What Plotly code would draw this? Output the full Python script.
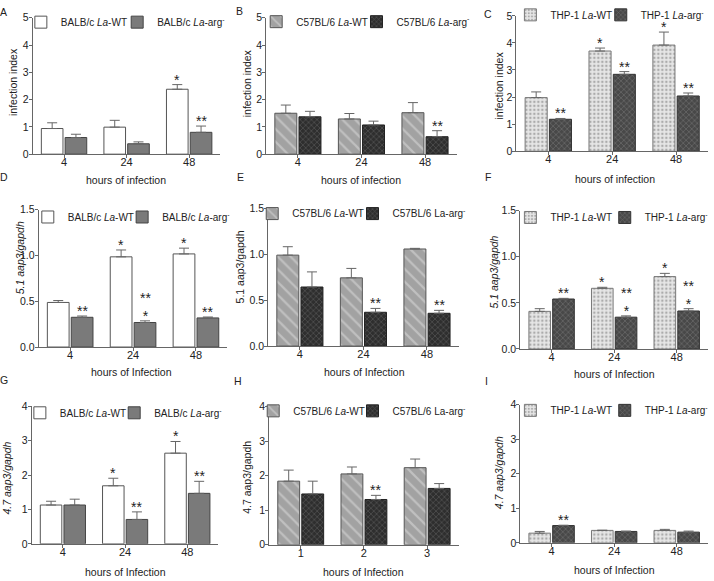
import plotly.graph_objects as go

W, H = 714, 581
FONT = "Liberation Sans, Arial, sans-serif"

# ---------------- data ----------------
hours = ["4", "24", "48"]
hours_H = ["1", "2", "3"]

A_wt = [0.94, 0.99, 2.38]; A_wt_sem = [0.21, 0.25, 0.17]
A_arg = [0.61, 0.38, 0.80]; A_arg_sem = [0.12, 0.07, 0.23]
B_wt = [1.50, 1.29, 1.52]; B_wt_sem = [0.30, 0.20, 0.37]
B_arg = [1.37, 1.07, 0.64]; B_arg_sem = [0.20, 0.14, 0.22]
C_wt = [1.98, 3.70, 3.92]; C_wt_sem = [0.21, 0.11, 0.48]
C_arg = [1.18, 2.84, 2.04]; C_arg_sem = [0.03, 0.10, 0.11]
D_wt = [0.487, 0.985, 1.017]; D_wt_sem = [0.021, 0.075, 0.063]
D_arg = [0.325, 0.268, 0.318]; D_arg_sem = [0.014, 0.018, 0.010]
E_wt = [0.993, 0.745, 1.060]; E_wt_sem = [0.092, 0.103, 0.007]
E_arg = [0.645, 0.369, 0.358]; E_arg_sem = [0.165, 0.042, 0.032]
F_wt = [0.408, 0.658, 0.785]; F_wt_sem = [0.029, 0.011, 0.035]
F_arg = [0.542, 0.345, 0.412]; F_arg_sem = [0.007, 0.014, 0.025]
G_wt = [1.13, 1.69, 2.64]; G_wt_sem = [0.11, 0.22, 0.34]
G_arg = [1.13, 0.71, 1.47]; G_arg_sem = [0.17, 0.22, 0.35]
H_wt = [1.84, 2.05, 2.23]; H_wt_sem = [0.32, 0.20, 0.25]
H_arg = [1.47, 1.31, 1.63]; H_arg_sem = [0.37, 0.12, 0.14]
I_wt = [0.28, 0.36, 0.36]; I_wt_sem = [0.05, 0.005, 0.03]
I_arg = [0.50, 0.33, 0.31]; I_arg_sem = [0.01, 0.01, 0.03]

A_wt_sig = ["", "", "*"]; A_arg_sig = ["", "", "**"]
B_wt_sig = ["", "", ""]; B_arg_sig = ["", "", "**"]
C_wt_sig = ["", "*", "*"]; C_arg_sig = ["**", "**", "**"]
D_wt_sig = ["", "*", "*"]; D_arg_sig = ["**", "**<br>*", "**"]
E_wt_sig = ["", "", ""]; E_arg_sig = ["", "**", "**"]
F_wt_sig = ["", "*", "*"]; F_arg_sig = ["**", "**<br>*", "**<br>*"]
G_wt_sig = ["", "*", "*"]; G_arg_sig = ["", "**", "**"]
H_wt_sig = ["", "", ""]; H_arg_sig = ["", "**", ""]
I_wt_sig = ["", "", ""]; I_arg_sig = ["**", "", ""]

names_BALB = ["BALB/c <i>La</i>-WT", "BALB/c <i>La</i>-arg<sup>-</sup>"]
names_C57 = ["C57BL/6 <i>La</i>-WT", "C57BL/6 <i>La</i>-arg<sup>-</sup>"]
names_C57b = ["C57BL/6 <i>La</i>-WT", "C57BL/6 La-arg<sup>-</sup>"]
names_THP = ["THP-1 <i>La</i>-WT", "THP-1 <i>La</i>-arg<sup>-</sup>"]

# ---------------- styles ----------------
STY = {
    "BALB": [
        dict(color="white", line=dict(color="#555555", width=1)),
        dict(color="#7a7a7a", line=dict(color="#444444", width=1)),
    ],
    "C57": [
        dict(color="#a6a6a6", line=dict(color="#555555", width=1),
             pattern=dict(shape="\\", bgcolor="#a2a2a2", fgcolor="#c0c0c0",
                          size=9, solidity=0.25, fillmode="replace")),
        dict(color="#333333", line=dict(color="#222222", width=1),
             pattern=dict(shape="x", bgcolor="#2e2e2e", fgcolor="#505050",
                          size=4, solidity=0.35, fillmode="replace")),
    ],
    "THP": [
        dict(color="#e2e2e2", line=dict(color="#777777", width=1),
             pattern=dict(shape=".", bgcolor="#e6e6e6", fgcolor="#ababab",
                          size=4, solidity=0.3, fillmode="replace")),
        dict(color="#505050", line=dict(color="#333333", width=1),
             pattern=dict(shape="x", bgcolor="#484848", fgcolor="#686868",
                          size=4, solidity=0.35, fillmode="replace")),
    ],
}

# panel geometry in pixels
panels = [
    dict(L="A", cats=hours, wt=A_wt, ws=A_wt_sem, arg=A_arg, as_=A_arg_sem, wsig=A_wt_sig, asig=A_arg_sig,
         sty="BALB", names=names_BALB, ymax=5, dt=1, fmt="d", ytitle="infection index",
         xt="hours of infection", box=(33, 222, 9, 149), leg=((60, 13.5), (157, 13.5)),
         ytp=(13, 75), xtp=(127, 176), lp=(4, 3)),
    dict(L="B", cats=hours, wt=B_wt, ws=B_wt_sem, arg=B_arg, as_=B_arg_sem, wsig=B_wt_sig, asig=B_arg_sig,
         sty="C57", names=names_C57, ymax=5, dt=1, fmt="d", ytitle="infection index",
         xt="hours of infection", box=(268, 460, 9, 149), leg=((297, 13), (398, 13)),
         ytp=(249, 76), xtp=(364, 176), lp=(241, 2)),
    dict(L="C", cats=hours, wt=C_wt, ws=C_wt_sem, arg=C_arg, as_=C_arg_sem, wsig=C_wt_sig, asig=C_arg_sig,
         sty="THP", names=names_THP, ymax=5, dt=1, fmt="d", ytitle="infection index",
         xt="hours of infection", box=(520, 713, 7, 146), leg=((553, 6), (644, 6)),
         ytp=(503, 78), xtp=(619, 174), lp=(491, 5)),
    dict(L="D", cats=hours, wt=D_wt, ws=D_wt_sem, arg=D_arg, as_=D_arg_sem, wsig=D_wt_sig, asig=D_arg_sig,
         sty="BALB", names=names_BALB, ymax=1.5, dt=0.5, fmt=".1f", ytitle="<i>5.1 aap3/gapdh</i>",
         xt="hours of Infection", box=(39, 229, 206, 347), leg=((67, 213.5), (162, 213.5)),
         ytp=(21, 255), xtp=(132, 373), lp=(4, 172)),
    dict(L="E", cats=hours, wt=E_wt, ws=E_wt_sem, arg=E_arg, as_=E_arg_sem, wsig=E_wt_sig, asig=E_arg_sig,
         sty="C57", names=names_C57b, ymax=1.5, dt=0.5, fmt=".1f", ytitle="5.1 aap3/gapdh",
         xt="hours of Infection", box=(270, 462, 205, 346), leg=((293, 210), (394, 210)),
         ytp=(242, 265), xtp=(367, 373), lp=(242, 172)),
    dict(L="F", cats=hours, wt=F_wt, ws=F_wt_sem, arg=F_arg, as_=F_arg_sem, wsig=F_wt_sig, asig=F_arg_sig,
         sty="THP", names=names_THP, ymax=1.5, dt=0.5, fmt=".1f", ytitle="<i>5.1 aap3/gapdh</i>",
         xt="hours of Infection", box=(524, 713, 207, 349), leg=((553, 214), (648, 214)),
         ytp=(498, 270), xtp=(619, 375), lp=(491, 172)),
    dict(L="G", cats=hours, wt=G_wt, ws=G_wt_sem, arg=G_arg, as_=G_arg_sem, wsig=G_wt_sig, asig=G_arg_sig,
         sty="BALB", names=names_BALB, ymax=4, dt=1, fmt="d", ytitle="<i>4.7 aap3/gapdh</i>",
         xt="hours of Infection", box=(32, 220, 408, 549), leg=((59, 414.5), (154, 414.5)),
         ytp=(7, 481), xtp=(126, 578), lp=(4, 381)),
    dict(L="H", cats=hours_H, wt=H_wt, ws=H_wt_sem, arg=H_arg, as_=H_arg_sem, wsig=H_wt_sig, asig=H_arg_sig,
         sty="C57", names=names_C57b, ymax=4, dt=1, fmt="d", ytitle="4.7 aap3/gapdh",
         xt="hours of Infection", box=(271, 462, 408, 550), leg=((294, 412.5), (394, 412.5)),
         ytp=(248, 481), xtp=(366, 578), lp=(240, 382)),
    dict(L="I", cats=hours, wt=I_wt, ws=I_wt_sem, arg=I_arg, as_=I_arg_sem, wsig=I_wt_sig, asig=I_arg_sig,
         sty="THP", names=names_THP, ymax=4, dt=1, fmt="d", ytitle="<i>4.7 aap3/gapdh</i>",
         xt="hours of Infection", box=(524, 713, 406, 548), leg=((553, 412), (648, 412)),
         ytp=(502, 476), xtp=(619, 576), lp=(490, 382)),
]


def fx(p):
    return p / W


def fy(p):
    return 1 - p / H


fig = go.Figure()
layout = dict(
    width=W, height=H, margin=dict(l=0, r=0, t=0, b=0),
    paper_bgcolor="white", plot_bgcolor="white",
    font=dict(family=FONT, size=10.5, color="#222222"),
    barmode="group", bargap=0.24, bargroupgap=0.09,
    showlegend=True,
)
annotations = []
TXT = "#222222"
AX = "#666666"
tcount = 0

for k, p in enumerate(panels):
    n = "" if k == 0 else str(k + 1)
    xa, ya = "x" + n, "y" + n
    xs = list(range(len(p["cats"])))
    st = STY[p["sty"]]
    for j, (vals, sem, nm) in enumerate([(p["wt"], p["ws"], p["names"][0]),
                                         (p["arg"], p["as_"], p["names"][1])]):
        lg = "legend" if tcount == 0 else "legend%d" % (tcount + 1)
        fig.add_trace(go.Bar(
            x=xs, y=vals, name=nm, xaxis=xa, yaxis=ya, legend=lg,
            marker=st[j],
            error_y=dict(type="data", symmetric=False, array=sem,
                         arrayminus=[0] * len(sem), color="#666666",
                         thickness=1, width=5),
            hoverinfo="skip",
        ))
        tx, ty = p["leg"][j]
        layout[lg] = dict(
            x=fx(tx - 39), y=fy(ty), xanchor="left", yanchor="middle",
            orientation="h", bgcolor="rgba(0,0,0,0)", borderwidth=0,
            font=dict(size=10, color=TXT, family=FONT), itemwidth=30,
        )
        tcount += 1
    x0, x1, yt, yb = p["box"]
    layout["xaxis" + n] = dict(
        domain=[fx(x0), fx(x1)], anchor=ya, range=[-0.5, 2.5],
        tickvals=xs, ticktext=p["cats"], ticks="outside", ticklen=3,
        tickcolor=AX, showline=True, linecolor=AX, linewidth=1,
        showgrid=False, zeroline=False, ticklabelstandoff=-5,
        tickfont=dict(size=11, color=TXT, family=FONT),
    )
    nt = int(round(p["ymax"] / p["dt"])) + 1
    tv = [i * p["dt"] for i in range(nt)]
    tt = [("%d" % v) if p["fmt"] == "d" else ("%.1f" % v) for v in tv]
    layout["yaxis" + n] = dict(
        domain=[fy(yb), fy(yt)], anchor=xa, range=[0, p["ymax"]],
        tickvals=tv, ticktext=tt, ticks="outside", ticklen=3,
        tickcolor=AX, showline=True, linecolor=AX, linewidth=1,
        showgrid=False, zeroline=False, ticklabelstandoff=-2,
        tickfont=dict(size=10.5, color=TXT, family=FONT),
    )
    # significance marks
    for j, (vals, sem, sig) in enumerate([(p["wt"], p["ws"], p["wsig"]),
                                          (p["arg"], p["as_"], p["asig"])]):
        off = -0.19 if j == 0 else 0.19
        for i, s in enumerate(sig):
            if s:
                annotations.append(dict(
                    x=i + off, y=vals[i] + sem[i], xref=xa, yref=ya,
                    text=s, showarrow=False, yanchor="bottom", yshift=-5,
                    font=dict(size=14, color=TXT, family=FONT),
                ))
    # titles and letters
    annotations.append(dict(x=fx(p["ytp"][0]), y=fy(p["ytp"][1]), xref="paper", yref="paper",
                            text=p["ytitle"], textangle=-90, showarrow=False,
                            xanchor="center", yanchor="middle",
                            font=dict(size=10.5, color=TXT, family=FONT)))
    annotations.append(dict(x=fx(p["xtp"][0]), y=fy(p["xtp"][1]), xref="paper", yref="paper",
                            text=p["xt"], showarrow=False, xanchor="center", yanchor="middle",
                            font=dict(size=10.5, color=TXT, family=FONT)))
    annotations.append(dict(x=fx(p["lp"][0]), y=fy(p["lp"][1]), xref="paper", yref="paper",
                            text=p["L"], showarrow=False, xanchor="center", yanchor="middle",
                            font=dict(size=10.5, color=TXT, family=FONT)))

layout["annotations"] = annotations
fig.update_layout(**layout)

post = ("document.body.style.margin='0';document.body.style.padding='0';"
        "document.body.style.overflow='hidden';"
        "var gd=document.getElementById('{plot_id}');"
        "gd.style.position='fixed';gd.style.left='0px';gd.style.top='0px';")
fig.write_html("out.html", post_script=post, config={"displayModeBar": False})
